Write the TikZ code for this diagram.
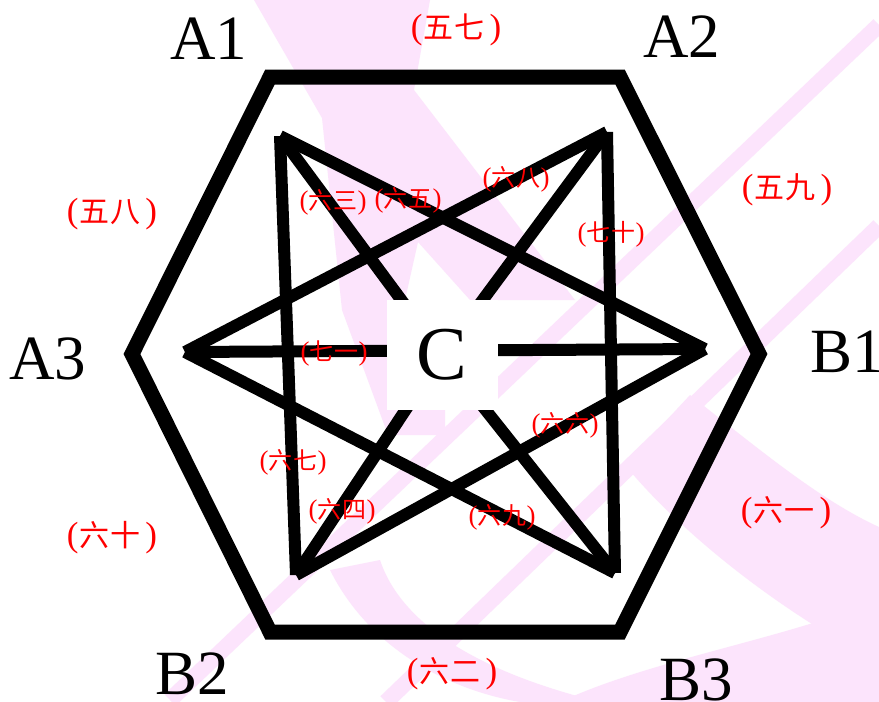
\documentclass[tikz,border=0pt]{standalone}
\usepackage{fontspec}
\setmainfont{Liberation Serif}
\newfontfamily\cjk{Noto Sans CJK SC}
\definecolor{wm}{RGB}{252,228,252}
\newcommand\olab[2]{{\fontsize{35}{36}\selectfont(}\hspace{1pt}{\cjk\fontsize{30}{32}\selectfont #1\hspace{1pt}#2}\hspace{5pt}{\fontsize{35}{36}\selectfont)}}
\newcommand\ilab[2]{{\fontsize{27}{28}\selectfont(}{\cjk\fontsize{24}{26}\selectfont #1\hspace{1pt}#2}{\fontsize{27}{28}\selectfont)}}
\begin{document}
\begin{tikzpicture}[x=1pt,y=-1pt,
  hexline/.style={line width=15pt,line join=miter},
  starline/.style={line width=12pt},
  big/.style={font=\fontsize{63}{66}\selectfont,inner sep=0pt},
  lab/.style={text=red,inner sep=0pt}]
\useasboundingbox (0,0) rectangle (879,702);
\fill[white] (0,0) rectangle (879,702);
% watermark
\fill[wm] (254,0) -- (430,0) -- (414,90) -- (575,300) -- (470,300) -- (418,242) -- (405,300) -- (387,300) -- (387,410) -- (445,410) -- (445,435) -- (388,435) -- (342,310) -- (322,118) -- cycle;
\draw[wm,line width=16pt] (879,25) -- (170,700);
\draw[wm,line width=16pt] (879,226) -- (386,702);
\fill[wm] (690,395) .. controls (760,450) and (820,500) .. (879,527) -- (879,663) .. controls (760,600) and (670,520) .. (625,465) -- cycle;
\fill[wm] (330,570) .. controls (370,650) and (450,690) .. (520,702) -- (600,702) .. controls (470,670) and (400,620) .. (380,560) -- cycle;
\fill[wm] (879,600) .. controls (780,640) and (650,660) .. (560,702) -- (879,702) -- cycle;
% hexagon
\coordinate (h1) at (270,77);
\coordinate (h2) at (620,77);
\coordinate (h3) at (759,354);
\coordinate (h4) at (620,632);
\coordinate (h5) at (270,632);
\coordinate (h6) at (132,354);
\draw[hexline] (h1) -- (h2) -- (h3) -- (h4) -- (h5) -- (h6) -- cycle;
% star
\coordinate (pA1) at (280,136);
\coordinate (pA2) at (607,132);
\coordinate (pA3) at (185,352);
\coordinate (pB1) at (705,349);
\coordinate (pB2) at (296,575);
\coordinate (pB3) at (615,573);
\coordinate (cc) at (442,355);
\draw[starline] (pA1) -- (pB2);
\draw[starline] (pA2) -- (pB3);
\draw[starline] (pA1) -- (pB1);
\draw[starline] (pA2) -- (pA3);
\draw[starline] (pA3) -- (pB3);
\draw[starline] (pB2) -- (pB1);
\draw[starline] (pA3) -- (pB1);
\draw[starline] (pA1) -- (cc);
\draw[starline] (pA2) -- (cc);
\draw[starline] (pB2) -- (cc);
\draw[starline] (pB3) -- (cc);
\node[fill=white,minimum width=111pt,minimum height=110pt,inner sep=0pt,font=\fontsize{76}{80}\selectfont] (C) at (cc) {C};
% vertex labels
\node[big] (tA1) at (209,39) {A1};
\node[big] (tA2) at (682,37) {A2};
\node[big] (tA3) at (48,359) {A3};
\node[big] (tB1) at (847,352) {B1};
\node[big] (tB2) at (192,674) {B2};
\node[big] (tB3) at (696,680) {B3};
% outer labels
\node[lab] (l57) at (456,30) {\olab{五}{七}};
\node[lab] (l58) at (112,214) {\olab{五}{八}};
\node[lab] (l59) at (787,190) {\olab{五}{九}};
\node[lab] (l60) at (112,538) {\olab{六}{十}};
\node[lab] (l61) at (786,513) {\olab{六}{一}};
\node[lab] (l62) at (452,674) {\olab{六}{二}};
% inner labels
\node[lab] (l63) at (333,202) {\ilab{六}{三}};
\node[lab] (l65) at (408,200) {\ilab{六}{五}};
\node[lab] (l68) at (516,179) {\ilab{六}{八}};
\node[lab] (l70) at (611,234) {\ilab{七}{十}};
\node[lab] (l71) at (334,353) {\ilab{七}{一}};
\node[lab] (l66) at (565,425) {\ilab{六}{六}};
\node[lab] (l67) at (293,462) {\ilab{六}{七}};
\node[lab] (l64) at (342,511) {\ilab{六}{四}};
\node[lab] (l69) at (502,517) {\ilab{六}{九}};
\end{tikzpicture}
\end{document}
